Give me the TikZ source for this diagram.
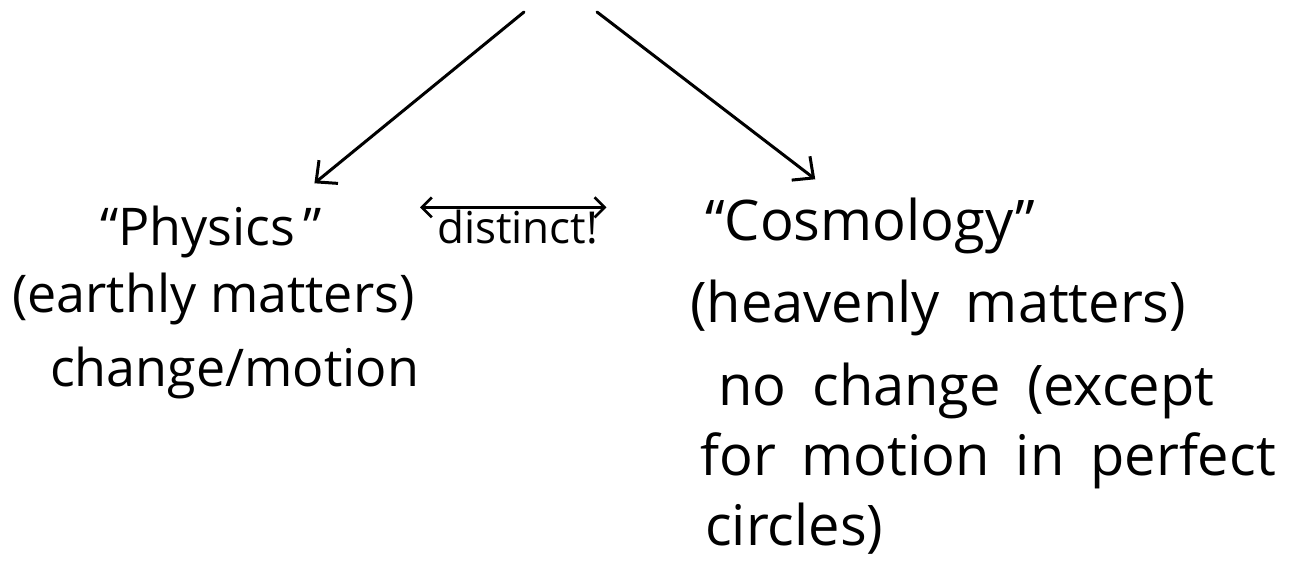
\documentclass[tikz,border=0pt]{standalone}
\usepackage{fontspec}
\setmainfont{Open Sans}
\usetikzlibrary{arrows.meta,positioning}
\newcommand\widegaps{\spaceskip=26pt plus 4pt\relax}

\begin{document}
\begin{tikzpicture}[
  x=1pt,y=-1pt,
  font=\fontsize{52}{58}\selectfont,
  txt/.style={anchor=base west,inner sep=0pt},
  wide/.style={txt,font={\fontsize{56}{60}\selectfont\widegaps}},
  arr/.style={-{Straight Barb[length=16pt,width=30pt]},line width=3pt,line cap=round}
]
\useasboundingbox (0,0) rectangle (1301,565);
% earthly side
\node[txt] (physics) at (100,245) {``Physics\,''};
\node[txt] (earthly) at (12,312) {(earthly matters)};
\node[txt] (motion) at (50,386) {change/motion};
% in between
\node[txt,font=\fontsize{44}{48}\selectfont] (distinct) at (437,243) {distinct!};
% heavenly side
\node[wide] (cosmology) at (705,240) {``Cosmology''};
\node[wide] (heavenly) at (690,322) {(heavenly matters)};
\node[wide] (nochange) at (718,405) {no change (except};
\node[wide] (formotion) at (700,475) {for motion in perfect};
\node[wide] (circles) at (705,545) {circles)};
% arrows
\coordinate (topL) at (524,12);
\coordinate (topR) at (597,12);
\draw[arr] (topL) -- ([xshift=-8pt,yshift=22pt]physics.north east);
\draw[arr] (topR) -- ([xshift=-55pt,yshift=18pt]cosmology.north);
\draw[{Straight Barb[length=10pt,width=20pt]}-{Straight Barb[length=10pt,width=20pt]},line width=2.6pt,line cap=round]
  ([xshift=-17pt,yshift=2pt]distinct.north west) -- ([xshift=8pt,yshift=2pt]distinct.north east);
\end{tikzpicture}
\end{document}
